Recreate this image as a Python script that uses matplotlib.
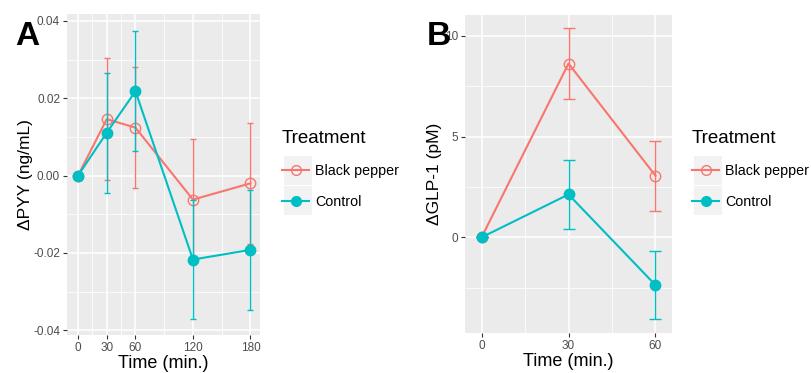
import matplotlib
matplotlib.use("Agg")
import matplotlib.pyplot as plt
from matplotlib.lines import Line2D
from matplotlib.patches import Rectangle

plt.rcParams['font.family'] = ['Liberation Sans', 'DejaVu Sans']

RED = '#F8766D'
TEAL = '#00BFC4'
PANEL = '#EBEBEB'

# Panel A: PYY
pyy_time = [0, 30, 60, 120, 180]
pyy_pepper = [0.0, 0.0146, 0.0124, -0.0062, -0.0020]
pyy_pepper_err = [0.0, 0.0157, 0.0157, 0.0157, 0.0157]
pyy_control = [0.0, 0.0111, 0.0218, -0.0217, -0.0192]
pyy_control_err = [0.0, 0.0155, 0.0155, 0.0155, 0.0155]

# Panel B: GLP-1
glp_time = [0, 30, 60]
glp_pepper = [0.0, 8.63, 3.06]
glp_pepper_err = [0.0, 1.74, 1.74]
glp_control = [0.0, 2.13, -2.37]
glp_control_err = [0.0, 1.71, 1.70]

labels = ['Black pepper', 'Control']


def style_axes(ax):
    ax.set_facecolor(PANEL)
    for s in ax.spines.values():
        s.set_visible(False)
    ax.grid(True, which='major', color='white', lw=1.1)
    ax.grid(True, which='minor', color='white', lw=0.55)
    ax.set_axisbelow(True)
    ax.tick_params(which='major', length=3, width=0.8, color='#333333',
                   labelcolor='#4D4D4D', labelsize=8.5, pad=2)
    ax.tick_params(which='minor', length=0)


def draw(ax, t, pep, pep_err, ctl, ctl_err, cap):
    ax.errorbar(t, pep, yerr=pep_err, color=RED, lw=1.5, elinewidth=1.0,
                capsize=cap, capthick=1.0, marker='o', ms=7.5, mfc='none',
                mec=RED, mew=1.0, zorder=3)
    ax.errorbar(t, ctl, yerr=ctl_err, color=TEAL, lw=1.5, elinewidth=1.0,
                capsize=cap, capthick=1.0, marker='o', ms=7.5, mfc=TEAL,
                mec=TEAL, zorder=4)


def legend(fig, ax, x_px, y_px):
    W, H = 811, 373
    handles = [
        Line2D([], [], color=RED, lw=1.5, marker='o', ms=7, mfc='none', mec=RED, mew=1.0),
        Line2D([], [], color=TEAL, lw=1.5, marker='o', ms=7, mfc=TEAL, mec=TEAL),
    ]
    # grey key boxes behind the legend glyphs
    for i in range(2):
        fig.patches.append(Rectangle(((x_px + 2) / W, 1 - (y_px + 55 + 30 * i) / H),
                                     28 / W, 29 / H, transform=fig.transFigure,
                                     facecolor='#F2F2F2', edgecolor='none', zorder=-1))
    leg = ax.legend(handles, labels, title='Treatment', loc='upper left',
                    bbox_to_anchor=(x_px / W, 1 - y_px / H),
                    bbox_transform=fig.transFigure, frameon=False,
                    fontsize=10.25, title_fontsize=13.5, handlelength=1.9,
                    handletextpad=0.45, labelspacing=1.18, borderpad=0,
                    borderaxespad=0)
    leg._legend_box.align = 'left'


fig = plt.figure(figsize=(8.11, 3.73), dpi=100)

axA = fig.add_axes([0.0826, 0.102, 0.238, 0.8606])
style_axes(axA)
draw(axA, pyy_time, pyy_pepper, pyy_pepper_err, pyy_control, pyy_control_err, 2.2)
axA.set_xlim(-11.5, 190)
axA.set_ylim(-0.0412, 0.0418)
axA.set_xticks(pyy_time)
axA.set_xticks([15, 45, 90, 150], minor=True)
axA.set_yticks([-0.04, -0.02, 0.0, 0.02, 0.04])
axA.set_yticklabels(['-0.04', '-0.02', '0.00', '0.02', '0.04'])
axA.set_yticks([-0.03, -0.01, 0.01, 0.03], minor=True)
axA.set_xlabel('Time (min.)', fontsize=13, labelpad=1)
axA.set_ylabel('ΔPYY (ng/mL)', fontsize=12.5, labelpad=0)
legend(fig, axA, 282, 130)
fig.text(15 / 811, 1 - 45 / 373, 'A', fontsize=24, fontweight='bold')

axB = fig.add_axes([0.5734, 0.1072, 0.2552, 0.8526])
style_axes(axB)
draw(axB, glp_time, glp_pepper, glp_pepper_err, glp_control, glp_control_err, 4.5)
axB.set_xlim(-5.7, 65.7)
axB.set_ylim(-4.75, 11.04)
axB.set_xticks(glp_time)
axB.set_xticks([15, 45], minor=True)
axB.set_yticks([0, 5, 10])
axB.set_yticks([-2.5, 2.5, 7.5], minor=True)
axB.set_xlabel('Time (min.)', fontsize=13, labelpad=1)
axB.set_ylabel('ΔGLP-1 (pM)', fontsize=12.5, labelpad=2)
legend(fig, axB, 692, 130)
fig.text(427 / 811, 1 - 45 / 373, 'B', fontsize=24, fontweight='bold')

fig.savefig('out.png', dpi=100)
